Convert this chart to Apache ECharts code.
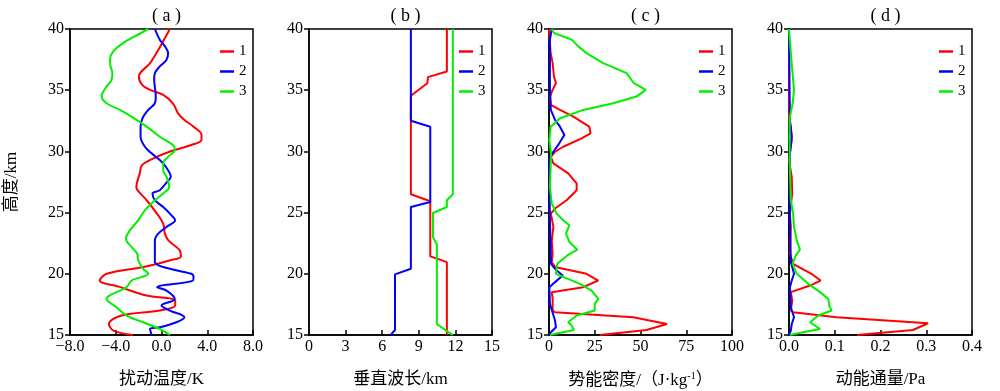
<!DOCTYPE html>
<html><head><meta charset="utf-8">
<script src="https://cdn.jsdelivr.net/npm/echarts@6/dist/echarts.min.js"></script>
<style>html,body{margin:0;padding:0;background:#fff}#c{width:1000px;height:391px}</style>
</head><body><div id="c"></div>
<script>
// [value, altitude km]
const tempS1 = [[0.73,40],[-0.44,38.03],[-1.0,37.21],[-1.98,36.12],[-1.7,35.44],[-1.0,35.03],[0.15,34.62],[1.0,33.93],[1.45,33.11],[2.0,32.57],[2.8,32.02],[3.5,31.34],[3.5,30.93],[2.6,30.52],[0.7,29.97],[-0.7,29.43],[-1.7,28.88],[-1.9,28.2],[-2.2,27.1],[-2.1,26.83],[-1.3,26.01],[-0.4,24.92],[0.15,24.1],[0.3,23.28],[0.6,22.73],[1.6,21.91],[1.7,21.42],[0.7,21.09],[-1.6,20.55],[-4.8,20.0],[-5.4,19.45],[-3.6,18.91],[-1.3,18.22],[1.2,17.81],[1.2,17.4],[-0.15,17.0],[-3.5,16.59],[-4.6,15.9],[-4.2,15.36],[-2.5,15.0]];
const tempS2 = [[-0.58,40],[-0.15,39.13],[0.3,38.58],[0.58,38.03],[0.44,37.49],[-0.15,36.94],[-0.58,36.39],[-0.64,35.85],[-0.5,34.48],[-0.58,33.93],[-1.16,33.39],[-1.66,32.71],[-1.83,32.02],[-1.83,31.2],[-1.45,30.38],[-0.87,29.84],[-0.15,29.29],[0.38,28.74],[0.81,27.92],[0.49,27.51],[-0.15,26.83],[-0.79,26.56],[-0.58,26.01],[0.15,25.46],[0.73,24.92],[1.19,24.37],[0.44,23.83],[-0.29,23.28],[-0.58,22.73],[-0.58,21.64],[-0.58,20.96],[0.15,20.55],[2.6,20.0],[2.8,19.73],[2.76,19.45],[-0.38,18.91],[0.44,18.63],[1.16,17.95],[0.0,17.4],[0.73,17.0],[2.0,16.45],[1.3,16.04],[-0.15,15.63],[-1.0,15.49],[-0.87,15.0]];
const tempS3 = [[-1.16,40],[-2.33,39.4],[-3.35,38.85],[-4.22,38.17],[-4.51,37.49],[-4.45,36.94],[-4.3,36.39],[-4.36,35.85],[-4.8,35.3],[-5.24,34.48],[-4.8,33.93],[-3.64,33.39],[-2.62,32.84],[-1.3,32.02],[-0.15,31.2],[1.0,30.52],[1.16,30.11],[0.58,29.56],[0.15,29.02],[0.15,28.47],[0.44,27.92],[0.67,27.1],[0.15,26.56],[-0.58,26.01],[-1.45,25.19],[-2.04,24.37],[-2.76,23.55],[-3.11,22.87],[-2.62,22.19],[-2.12,21.64],[-2.04,21.09],[-1.6,20.41],[-1.16,20.0],[-2.62,19.45],[-3.05,18.91],[-4.8,17.95],[-3.93,17.27],[-3.05,16.59],[-1.6,16.04],[-0.15,15.49],[0.73,15.0]];

const waveS1 = [[11.3,40],[11.3,36.53],[9.75,36.07],[9.7,35.57],[8.35,34.54],[8.35,26.5],[9.94,25.93],[9.94,21.42],[11.3,20.95],[11.3,15]];
const waveS2 = [[8.35,40],[8.35,32.51],[9.94,32.02],[9.94,25.87],[8.35,25.46],[8.35,20.41],[7.05,19.95],[7.05,15.41],[6.7,15]];
const waveS3 = [[11.79,40],[11.79,26.5],[11.3,26.01],[11.3,25.46],[10.16,24.97],[10.16,23.01],[10.48,22.4],[10.48,15.9],[11.24,15.36],[11.79,15]];

const epS1 = [[0,40],[0.9,38.03],[2,37.21],[2.7,36.12],[3.8,35.57],[2,35.03],[0.5,34.48],[1,33.8],[6,33.39],[13.3,32.84],[22,32.02],[22.7,31.48],[17.8,31.07],[7.8,30.38],[3.3,29.97],[1,29.56],[2.4,29.02],[10.5,28.2],[15.1,27.38],[15.1,26.83],[9.6,26.01],[3.3,25.33],[1,24.92],[2.4,23.83],[1.5,22.73],[2,21.64],[1.5,20.96],[3.3,20.55],[20.5,20.0],[26.9,19.45],[18.7,18.91],[1.5,18.5],[2,17.95],[2,17.0],[3.3,16.86],[46,16.45],[64.5,15.9],[53.3,15.41],[27.8,15.0]];
const epS2 = [[1.5,40],[0.5,39.13],[0.5,35.3],[1,33.39],[3.3,32.57],[6,32.02],[8.4,31.34],[5.6,30.66],[2.4,29.97],[0.5,29.56],[0.2,28.2],[0.5,24.37],[1,21.64],[1,20.82],[4.2,20.27],[7.5,19.86],[3.3,19.32],[0.2,18.91],[0.5,17.54],[3.3,16.18],[3.8,15.63],[1,15.22],[0.2,15.0]];
const epS3 = [[1.5,40],[2.7,39.67],[12.4,39.13],[16,38.58],[20.5,38.03],[29.6,37.21],[42.4,36.39],[46.4,35.57],[52.9,35.03],[47.8,34.48],[35.1,33.93],[18.7,33.39],[6,32.71],[0.9,32.02],[0.2,30.93],[1.1,29.84],[0.9,28.74],[0.5,27.1],[1.5,25.74],[4.2,24.92],[7.8,24.37],[11.1,23.96],[9.3,23.28],[11.1,22.6],[15.5,21.97],[10,21.5],[4.5,20.82],[3.8,20.0],[16.9,19.18],[23.3,18.63],[26.9,17.95],[25,17.54],[25,17.0],[15.1,16.59],[10.5,16.04],[12.4,15.77],[13.6,15.41],[0.5,15.0]];

const fluxS1 = [[0,40],[0,32.57],[0.004,32.02],[0.006,30.93],[0,29.29],[0.006,27.92],[0.007,26.56],[0.002,24.92],[0.004,23.83],[0.002,21.64],[0.009,20.82],[0.049,20.0],[0.069,19.45],[0.046,19.04],[0.004,18.5],[0.007,17.81],[0.004,17.0],[0.009,16.86],[0.104,16.45],[0.304,15.96],[0.271,15.41],[0.149,15.0]];
const fluxS2 = [[0,40],[0.002,32.57],[0.006,31.2],[0.002,29.84],[0.002,24.37],[0.004,20.96],[0.011,20.0],[0.006,19.45],[0.002,18.91],[0.004,17.27],[0.011,16.45],[0.006,15.9],[0.004,15.36],[0,15.0]];
const fluxS3 = [[0,40],[0.004,38.03],[0.009,35.85],[0.011,35.03],[0.008,33.93],[0.002,32.84],[0.001,31.2],[0.002,28.47],[0.004,26.01],[0.009,24.92],[0.011,23.83],[0.017,22.73],[0.024,21.97],[0.015,21.5],[0.008,20.82],[0.017,20.0],[0.042,19.18],[0.068,18.5],[0.086,17.95],[0.088,17.4],[0.093,17.0],[0.064,16.59],[0.046,16.04],[0.068,15.49],[0.031,15.22],[0.002,15.0]];

const seriesNames = ['1','2','3'];
const panelTitles = ['( a )','( b )','( c )','( d )'];
const xNames = ['扰动温度/K','垂直波长/km','势能密度/（J·kg{sup|-1}）','动能通量/Pa'];
const yName = '高度/km';
const xRanges = [[-8,8,4],[0,15,3],[0,100,25],[0,0.4,0.1]];
const yRange = [15,40,5];

const panelData = [[tempS1,tempS2,tempS3],[waveS1,waveS2,waveS3],[epS1,epS2,epS3],[fluxS1,fluxS2,fluxS3]];
const colors = ['#ff0000','#0000ff','#00f000'];
const gridLefts = [70,309,549,789];
const gridW = 183;
const FONT = '"Liberation Serif","Noto Sans CJK SC",serif';

const chart = echarts.init(document.getElementById('c'), null, {renderer:'canvas'});
const grids=[], xAxes=[], yAxes=[], series=[], legends=[], titles=[];
for (let p=0;p<4;p++){
  grids.push({left:gridLefts[p], top:29, width:gridW, height:306, show:true, borderColor:'#000', borderWidth:1.5,
    containLabel:false, outerBoundsMode:'none'});
  const [mn,mx,iv] = xRanges[p];
  xAxes.push({type:'value', gridIndex:p, min:mn, max:mx, interval:iv,
    name:xNames[p], nameLocation:'middle', nameGap:36,
    nameTextStyle:{fontFamily:FONT, fontSize:17, color:'#000', rich:{sup:{fontSize:10, verticalAlign:'top', padding:[0,0,10,0], fontFamily:FONT}}},
    axisLine:{show:true, onZero:false, lineStyle:{color:'#000', width:1.5}},
    axisTick:{show:true, inside:true, length:5, lineStyle:{color:'#000', width:1.5}},
    axisLabel:{margin:4, fontFamily:FONT, fontSize:16, color:'#000',
      formatter: v => {
        if (p===0) return (v<0?'\u2212':'') + Math.abs(v).toFixed(1);
        if (p===3) return v.toFixed(1);
        return String(v);
      }},
    splitLine:{show:false}});
  yAxes.push({type:'value', gridIndex:p, min:yRange[0], max:yRange[1], interval:yRange[2],
    name: p===0 ? yName : '', nameLocation:'middle', nameGap:50, nameRotate:90,
    nameTextStyle:{fontFamily:FONT, fontSize:17, color:'#000'},
    axisLine:{show:true, onZero:false, lineStyle:{color:'#000', width:1.5}},
    axisTick:{show:true, inside:false, length:5, lineStyle:{color:'#000', width:1.5}},
    axisLabel:{margin:6, fontFamily:FONT, fontSize:16, color:'#000'},
    splitLine:{show:false}});
  for (let s=0;s<3;s++){
    series.push({type:'line', name:seriesNames[s], xAxisIndex:p, yAxisIndex:p,
      data:panelData[p][s], symbol:'none', smooth: p===0 ? 0.35 : false,
      lineStyle:{color:colors[s], width:2}, itemStyle:{color:colors[s]}, animation:false});
  }
  legends.push({left:gridLefts[p]+gridW-38, top:39, orient:'vertical', data:seriesNames,
    icon:'rect', itemWidth:14, itemHeight:2.5, itemGap:5, textStyle:{fontFamily:FONT, fontSize:15, color:'#000'}});
  titles.push({text:panelTitles[p], left:gridLefts[p]+gridW/2, top:2, textAlign:'center',
    textStyle:{fontFamily:FONT, fontSize:18, fontWeight:'normal', color:'#000'}});
}
chart.setOption({animation:false, title:titles, grid:grids, xAxis:xAxes, yAxis:yAxes, legend:legends, series:series});
</script></body></html>
